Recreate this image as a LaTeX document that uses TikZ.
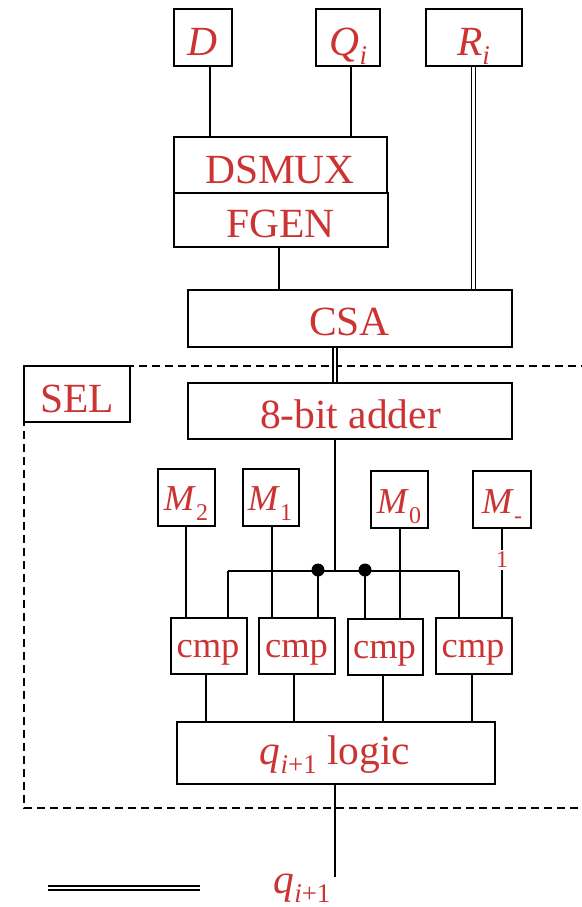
\documentclass[tikz,border=0pt]{standalone}
\usepackage{fontspec}
\setmainfont{Liberation Serif}
\definecolor{lblred}{RGB}{204,51,51}
\newcommand\subA[1]{\raisebox{-9pt}{\fontsize{27}{27}\selectfont #1}}
\newcommand\subB[1]{\raisebox{-10pt}{\fontsize{24}{24}\selectfont #1}}
\begin{document}
\begin{tikzpicture}[x=1pt,y=-1pt,
  box/.style={draw, line width=2pt, inner sep=0pt, fill=white},
  txt/.style={text=lblred, anchor=base, inner sep=0pt, font=\fontsize{41.5}{45}\selectfont},
  stxt/.style={text=lblred, anchor=base, inner sep=0pt, font=\fontsize{36.5}{40}\selectfont},
  wire/.style={line width=2pt},
  dbl/.style={line width=1.8pt, double, double distance=2.2pt},
  dot/.style={circle, fill=black, inner sep=0pt, minimum size=13pt},
  selregion/.style={line width=1.7pt, dash pattern=on 8pt off 5pt}]
\useasboundingbox (0,0) rectangle (581,907);
% dashed SEL region
\draw[selregion] (24,366) rectangle (586,808);
% boxes
\node[box, minimum width=58, minimum height=57] (D) at (203,37.5) {};
\node[box, minimum width=64, minimum height=57] (Q) at (348,37.5) {};
\node[box, minimum width=96, minimum height=57] (R) at (474,37.5) {};
\node[box, minimum width=213, minimum height=56] (DS) at (280.5,165) {};
\node[box, minimum width=214, minimum height=54] (FG) at (281,220) {};
\node[box, minimum width=324, minimum height=57] (CSA) at (350,318.5) {};
\node[box, minimum width=106, minimum height=56] (SEL) at (77,394) {};
\node[box, minimum width=324, minimum height=56] (ADD) at (350,411) {};
\node[box, minimum width=57, minimum height=57] (M2) at (186.5,497.5) {};
\node[box, minimum width=56, minimum height=57] (M1) at (271,497.5) {};
\node[box, minimum width=57, minimum height=57] (M0) at (399.5,499.5) {};
\node[box, minimum width=58, minimum height=57] (Mm) at (502,499.5) {};
\node[box, minimum width=76, minimum height=56] (C1) at (209,646) {};
\node[box, minimum width=76, minimum height=56] (C2) at (297,646) {};
\node[box, minimum width=75, minimum height=56] (C3) at (385.5,647) {};
\node[box, minimum width=76, minimum height=56] (C4) at (474,646) {};
\node[box, minimum width=318, minimum height=62] (LOG) at (336,753) {};
% texts
\node[txt] (tD) at (202,56) {\textit{D}};
\node[txt] (tQ) at (348.5,56) {\textit{Q}\subA{\textit{i}}};
\node[txt] (tR) at (473.5,56) {\textit{R}\subA{\textit{i}}};
\node[txt] (tDS) at (280,183) {DSMUX};
\node[txt] (tFG) at (280.5,237) {FGEN};
\node[txt] (tCSA) at (349.5,335) {CSA};
\node[txt] (tSEL) at (77,412) {SEL};
\node[txt] (tADD) at (350.5,428) {8-bit adder};
\node[stxt] (tM2) at (186,510) {\textit{M}\subB{2}};
\node[stxt] (tM1) at (270,510) {\textit{M}\subB{1}};
\node[stxt] (tM0) at (399,513) {\textit{M}\subB{0}};
\node[stxt] (tMm) at (502,513) {\textit{M}\subB{-}};
\node[fill=white, text=lblred, inner sep=2pt, font=\fontsize{24}{24}\selectfont] (one) at (502,560) {1};
\node[stxt] (tC1) at (208,657) {cmp};
\node[stxt] (tC2) at (296.5,657) {cmp};
\node[stxt] (tC3) at (384.5,658) {cmp};
\node[stxt] (tC4) at (473,657) {cmp};
\node[txt] (tLOG) at (335,764) {\textit{q}\subA{\textit{i}+1} logic};
\node[txt] (tq) at (302,893) {\textit{q}\subA{\textit{i}+1}};
% helper x positions
\coordinate (xD) at (210,0);
\coordinate (xQ) at (351,0);
\coordinate (xR) at (473.5,0);
\coordinate (xF) at (279,0);
\coordinate (xC) at (335,0);
\coordinate (xM2) at (186,0);
\coordinate (xM1) at (272,0);
\coordinate (xM0) at (400,0);
\coordinate (xMm) at (502,0);
\coordinate (o1) at (206,0);
\coordinate (o2) at (294,0);
\coordinate (o3) at (383,0);
\coordinate (o4) at (472,0);
\coordinate (bL) at (228,571);
\coordinate (bR) at (459,571);
\coordinate (bJ) at (335,571);
\node[dot] (d1) at (318,570) {};
\node[dot] (d2) at (365,570) {};
\coordinate (qend) at (335,877);
% connectors
\draw[wire] (D.south -| xD) -- (DS.north -| xD);
\draw[wire] (Q.south -| xQ) -- (DS.north -| xQ);
\draw[dbl] (R.south -| xR) -- (CSA.north -| xR);
\draw[wire] (FG.south -| xF) -- (CSA.north -| xF);
\draw[dbl] (CSA.south -| xC) -- (ADD.north -| xC);
\draw[wire] (ADD.south -| xC) -- (bJ);
\draw[wire] (bL) -- (bR);
\draw[wire] (bL) -- (bL |- C1.north);
\draw[wire] (bR) -- (bR |- C4.north);
\draw[wire] (d1.center) -- (d1 |- C2.north);
\draw[wire] (d2.center) -- (d2 |- C3.north);
\draw[wire] (M2.south -| xM2) -- (C1.north -| xM2);
\draw[wire] (M1.south -| xM1) -- (C2.north -| xM1);
\draw[wire] (M0.south -| xM0) -- (C3.north -| xM0);
\draw[wire] (Mm.south -| xMm) -- (one.north);
\draw[wire] (one.south) -- (C4.north -| xMm);
\draw[wire] (C1.south -| o1) -- (LOG.north -| o1);
\draw[wire] (C2.south -| o2) -- (LOG.north -| o2);
\draw[wire] (C3.south -| o3) -- (LOG.north -| o3);
\draw[wire] (C4.south -| o4) -- (LOG.north -| o4);
\draw[wire] (LOG.south -| xC) -- (qend);
% legend double line
\coordinate (lg1) at (48,888);
\coordinate (lg2) at (200,888);
\draw[dbl] (lg1) -- (lg2);
\end{tikzpicture}
\end{document}
